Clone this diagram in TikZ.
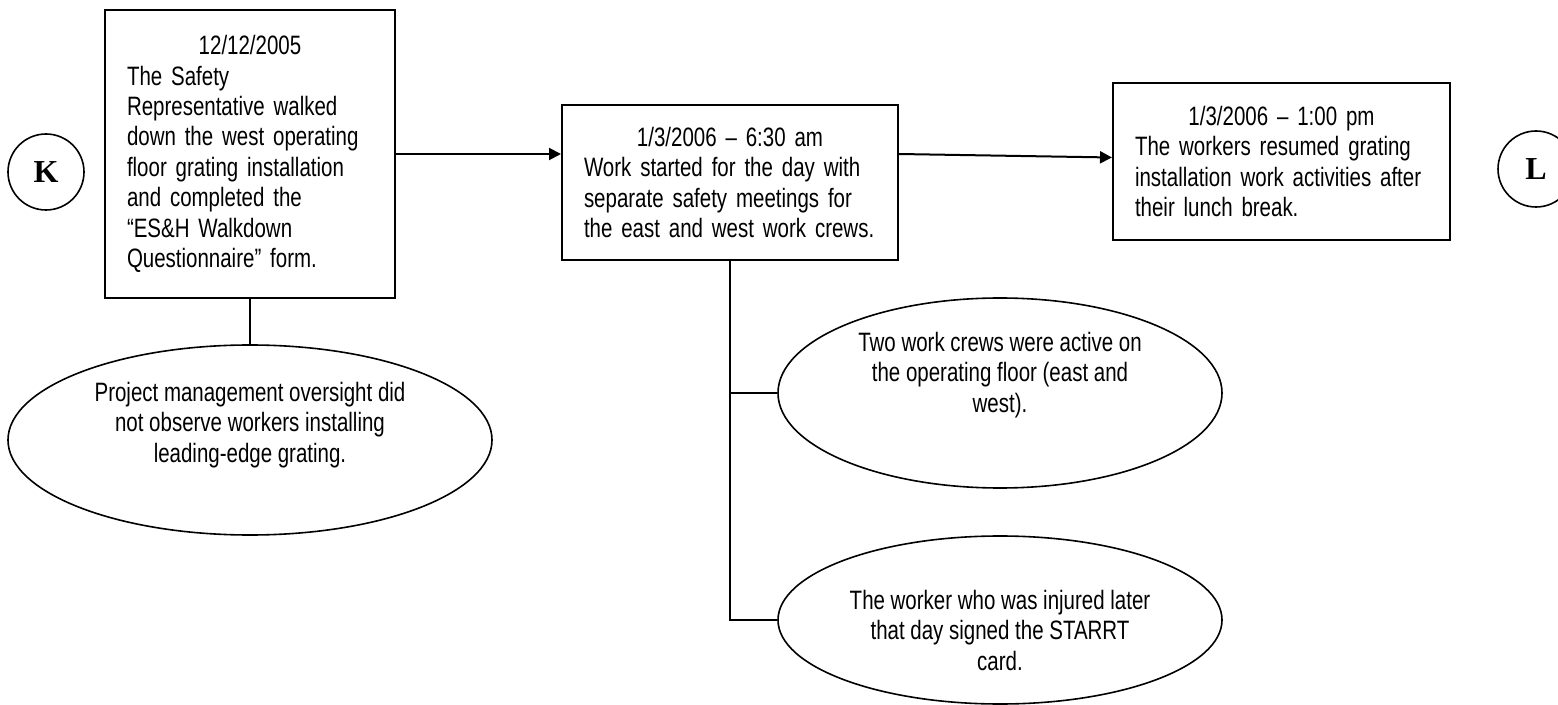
\documentclass[tikz,border=0pt]{standalone}
\usepackage{fontspec}
\setmainfont{Liberation Sans}[FakeStretch=0.77]
\newfontfamily\letterfont{Liberation Serif}
\usepackage{tikz}
\usetikzlibrary{shapes.geometric}
\usetikzlibrary{arrows.meta}
\setlength{\parindent}{0pt}

\begin{document}
\begin{tikzpicture}[x=0.5pt, y=-0.5pt,
        event/.style = {draw = black, line width = 1pt, rectangle,
                align = left, inner xsep = 11pt, inner ysep = 0pt,
                font = \fontsize{13.3}{15.2}\selectfont},
        fact/.style = {draw = black, line width = 0.8pt, ellipse,
                align = center, inner sep = 0pt,
                font = \fontsize{13.3}{15.2}\selectfont},
        tag/.style = {draw = black, line width = 0.8pt, circle,
                minimum size = 38pt, inner sep = 0pt,
                font = \letterfont\bfseries\fontsize{16}{16}\selectfont},
        arr/.style = {line width = 1pt, -{Triangle[length=6pt, width=6pt]}},
        link/.style = {line width = 1pt}]
        \useasboundingbox (0,0) rectangle (1558,705);

        \node[tag] (k) at (46,172) {K};
        \node[tag] (l) at (1536,169) {L};

        \node[event,
        text width = 123pt,
        minimum width = 145pt,
        minimum height = 144pt] (walk) at (250,154)
        {{\centering 12/12/2005\par}
        The Safety\\
        Representative walked\\
        down the west operating\\
        floor grating installation\\
        and completed the\\
        “ES\&H Walkdown\\
        Questionnaire” form.};

        \node[event,
        text width = 146pt,
        minimum width = 168pt,
        minimum height = 77.5pt] (start) at (730,182.5)
        {{\centering 1/3/2006 – 6:30 am\par}
        Work started for the day with\\
        separate safety meetings for\\
        the east and west work crews.};

        \node[event,
        text width = 146.5pt,
        minimum width = 168.5pt,
        minimum height = 78.5pt] (resume) at (1281.5,161.5)
        {{\centering 1/3/2006 – 1:00 pm\par}
        The workers resumed grating\\
        installation work activities after\\
        their lunch break.};

        \node[fact,
        minimum width = 242pt,
        minimum height = 95pt] (oversight) at (250,440)
        {Project management oversight did\\
        not observe workers installing\\
        leading-edge grating.\\[2.8pt]\mbox{}};

        \node[fact,
        minimum width = 222pt,
        minimum height = 95pt] (crews) at (1000,393)
        {Two work crews were active on\\
        the operating floor (east and\\
        west).\\[5.8pt]\mbox{}};

        \node[fact,
        minimum width = 222pt,
        minimum height = 84pt] (starrt) at (1000,620)
        {\mbox{}\\[4.8pt]The worker who was injured later\\
        that day signed the STARRT\\
        card.};

        \draw[arr] (walk.east) -- (walk.east -| start.west);
        \draw[arr] (walk.east -| start.east) -- ([yshift=2pt]resume.west);
        \draw[link] (walk.south) -- (oversight.north);
        \draw[link] (start.south) -- (start.south |- starrt.west) -- (starrt.west);
        \draw[link] (start.south |- crews.west) -- (crews.west);
    \end{tikzpicture}
\end{document}
